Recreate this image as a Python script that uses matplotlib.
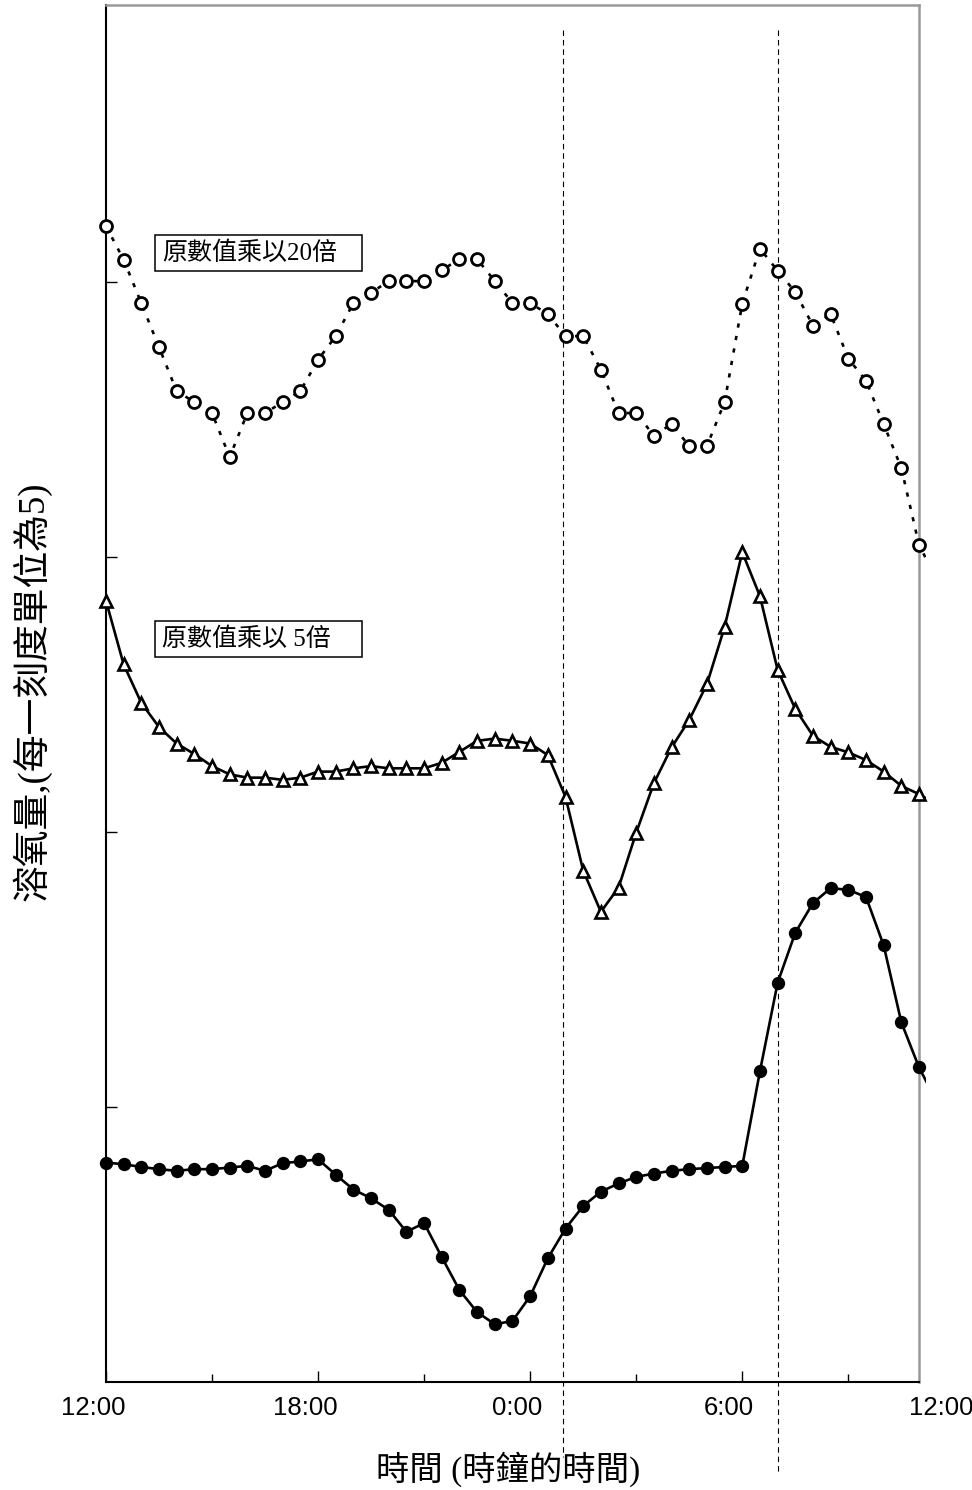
import numpy as np
import matplotlib
matplotlib.use("Agg")
import matplotlib.pyplot as plt
from matplotlib.patches import Rectangle
from matplotlib.transforms import ScaledTranslation

# half-hour readings starting at 12:00 (hours since noon)
hours = np.arange(48) * 0.5

# scaled x20 (open circles, dotted)
do_x20 = [21.02, 20.41, 19.62, 18.82, 18.02, 17.82, 17.62, 16.82, 17.62, 17.62,
          17.82, 18.02, 18.59, 19.02, 19.62, 19.81, 20.02, 20.02, 20.02, 20.22,
          20.42, 20.42, 20.02, 19.62, 19.62, 19.42, 19.02, 19.02, 18.41, 17.62,
          17.62, 17.21, 17.42, 17.02, 17.02, 17.82, 19.61, 20.61, 20.21, 19.82,
          19.21, 19.42, 18.61, 18.21, 17.42, 16.62, 15.22, 14.60]

# scaled x5 (open triangles, solid)
do_x5 = [14.21, 13.05, 12.35, 11.91, 11.61, 11.42, 11.20, 11.05, 10.99, 10.99,
         10.95, 10.99, 11.10, 11.10, 11.16, 11.20, 11.16, 11.16, 11.16, 11.26,
         11.46, 11.66, 11.70, 11.66, 11.61, 11.40, 10.64, 9.30, 8.55, 8.99,
         9.99, 10.89, 11.54, 12.04, 12.69, 13.73, 15.09, 14.29, 12.95, 12.24,
         11.75, 11.55, 11.45, 11.31, 11.10, 10.84, 10.69, 10.50]

# raw values (filled dots, solid)
do_raw = [3.99, 3.96, 3.91, 3.87, 3.84, 3.87, 3.87, 3.90, 3.93, 3.84,
          3.98, 4.01, 4.05, 3.77, 3.50, 3.34, 3.13, 2.73, 2.89, 2.27,
          1.67, 1.27, 1.05, 1.11, 1.56, 2.25, 2.79, 3.20, 3.46, 3.61,
          3.73, 3.79, 3.84, 3.87, 3.89, 3.91, 3.93, 5.65, 7.26, 8.17,
          8.71, 8.98, 8.95, 8.82, 7.94, 6.54, 5.72, 5.10]

tick_hours = [0, 6, 12, 18, 24]
tick_labels = ["12:00", "18:00", "0:00", "6:00", "12:00"]
marker_hours = [12.92, 19.0]

cjk = ["Liberation Serif", "Noto Sans CJK TC"]

fig = plt.figure(figsize=(9.72, 14.9), dpi=100)
ax = fig.add_axes([0.109, 0.0725, 0.8365, 0.9241])
ax.set_xlim(0, 23)
ax.set_ylim(0, 25.04)

n = len(hours) - 1
clip = Rectangle((0, 0), 1.009, 1, transform=ax.transAxes, visible=False)
ax.add_patch(clip)

l1, = ax.plot(hours, do_x20, color="black", lw=1.9, ls=(0, (1.6, 3.2)), zorder=3)
l2, = ax.plot(hours, do_x5, color="black", lw=1.9, zorder=3)
l3, = ax.plot(hours, do_raw, color="black", lw=1.9, zorder=3)
for ln in (l1, l2, l3):
    ln.set_clip_path(clip)

ax.plot(hours[:n], do_x20[:n], ls="none", marker="o", ms=8.6, mew=2.0,
        mfc="white", mec="black", clip_on=False, zorder=4)
ax.plot(hours[:n], do_x5[:n], ls="none", marker="^", ms=8.8, mew=1.9,
        mfc="white", mec="black", clip_on=False, zorder=4)
ax.plot(hours[:n], do_raw[:n], ls="none", marker="o", ms=9.6, mew=0,
        mfc="black", clip_on=False, zorder=4)

# vertical reference lines, running past the axis
for h, ybot in zip(marker_hours, [-1.36, -1.64]):
    ax.plot([h, h], [24.58, ybot], color="black", lw=0.8, ls=(0, (5, 3.5)),
            clip_on=False, zorder=2)

# axes frame
for side in ("left", "bottom"):
    ax.spines[side].set_color("black")
    ax.spines[side].set_linewidth(1.5)
for side in ("top", "right"):
    ax.spines[side].set_color("#999999")
    ax.spines[side].set_linewidth(1.8)

ax.set_xticks([0, 6, 12, 18])
ax.set_xticks([3, 9, 15, 21], minor=True)
ax.set_yticks([5, 10, 15, 20])
ax.tick_params(which="major", direction="in", length=8, width=1, labelbottom=False, labelleft=False)
ax.tick_params(which="minor", direction="in", length=6, width=1)

off = ScaledTranslation(-13 / 100, 0, fig.dpi_scale_trans)
for h, lab in zip(tick_hours, tick_labels):
    ax.text(h, -0.25, lab, transform=ax.transData + off, ha="center", va="top",
            fontsize=18.5, family="Liberation Sans", clip_on=False)

# scale notes
for ybox, txt in [(0.8070, "原數值乘以20倍"), (0.5263, "原數值乘以 5倍")]:
    ax.add_patch(Rectangle((0.0603, ybox), 0.2546, 0.0261, transform=ax.transAxes,
                           fill=False, ec="black", lw=1.1, zorder=5))
    ax.text(0.0689, ybox + 0.0131, txt, transform=ax.transAxes, ha="left", va="center",
            fontsize=18, family=cjk, zorder=5)

fig.text(0.033, 0.536, "溶氧量,(每一刻度單位為5)", rotation=90, ha="center", va="center",
         fontsize=26.5, family=cjk)
fig.text(0.5226, 0.0141, "時間 (時鐘的時間)", ha="center", va="center",
         fontsize=24, family=cjk)

fig.savefig("out.png", dpi=100)
